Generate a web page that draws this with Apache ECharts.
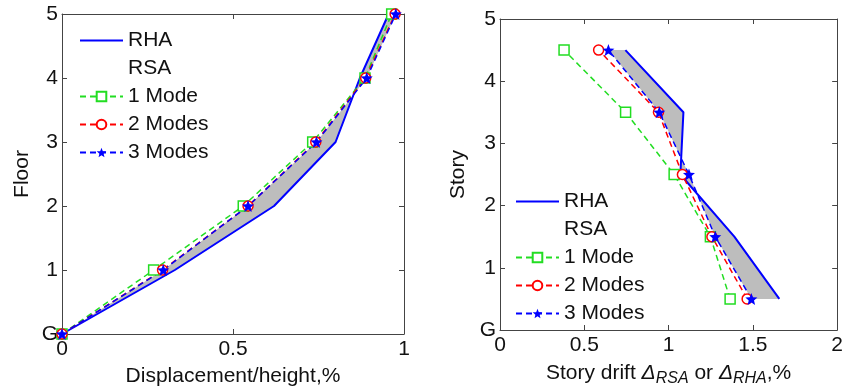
<!DOCTYPE html>
<html><head><meta charset="utf-8">
<script src="https://cdn.jsdelivr.net/npm/echarts@6/dist/echarts.min.js"></script>
<style>html,body{margin:0;padding:0;background:#fff}#c{width:846px;height:392px}</style>
</head><body><div id="c"></div>
<script>
// ---- data ----
const floors = [0, 1, 2, 3, 4, 5];
const dispRHA    = [0, 0.33, 0.62, 0.80, 0.871, 0.955];
const disp1Mode  = [0, 0.268, 0.530, 0.733, 0.886, 0.964];
const disp2Modes = [0, 0.294, 0.544, 0.742, 0.888, 0.974];
const disp3Modes = [0, 0.296, 0.544, 0.744, 0.891, 0.976];

const stories = [0.5, 1.5, 2.5, 3.5, 4.5];
const driftRHA    = [1.657, 1.39, 1.07, 1.088, 0.744];
const drift1Mode  = [1.365, 1.248, 1.033, 0.745, 0.380];
const drift2Modes = [1.466, 1.257, 1.082, 0.940, 0.585];
const drift3Modes = [1.491, 1.277, 1.121, 0.945, 0.643];

const floorTickLabels = ['G', '1', '2', '3', '4', '5'];
const legendNames = ['RHA', 'RSA', '1 Mode', '2 Modes', '3 Modes'];

// ---- helpers ----
const FONT = 'Liberation Sans, Arial, sans-serif';
const zip = (xs, ys) => xs.map((x, i) => [x, ys[i]]);
const AX = '#444';
const GREEN = '#22dd22', RED = '#ff0000', BLUE = '#0000ff';
const STAR = 'path://M0,-10L2.6,-3.5L9.5,-3.1L4.2,1.3L5.9,8.1L0,4.3L-5.9,8.1L-4.2,1.3L-9.5,-3.1L-2.6,-3.5Z';
const TICK_FS = 21, NAME_FS = 21;

function xAx(grid, max, interval, pos, name, nameGap) {
  return {
    gridIndex: grid, type: 'value', min: 0, max: max, interval: interval, position: pos,
    axisLine: {show: true, onZero: false, lineStyle: {color: AX, width: 1}},
    axisTick: {show: true, inside: true, length: 5, lineStyle: {color: AX}},
    axisLabel: {show: pos === 'bottom', fontSize: TICK_FS, color: '#111', fontFamily: FONT, margin: 5},
    splitLine: {show: false},
    name: pos === 'bottom' ? name : '', nameLocation: 'middle', nameGap: nameGap,
    nameTextStyle: {fontSize: NAME_FS, color: '#111', fontFamily: FONT,
      rich: {
        n: {fontSize: NAME_FS, color: '#111', fontFamily: FONT},
        i: {fontSize: NAME_FS, color: '#111', fontFamily: FONT, fontStyle: 'italic'},
        s: {fontSize: 16, color: '#111', fontFamily: FONT, fontStyle: 'italic', padding: [12, 0, 0, 0]}
      }}
  };
}
function yAx(grid, pos, name, nameGap) {
  return {
    gridIndex: grid, type: 'value', min: 0, max: 5, interval: 1, position: pos,
    axisLine: {show: true, onZero: false, lineStyle: {color: AX, width: 1}},
    axisTick: {show: true, inside: true, length: 5, lineStyle: {color: AX}},
    axisLabel: {show: pos === 'left', fontSize: TICK_FS, color: '#111', fontFamily: FONT, margin: 4,
      formatter: v => floorTickLabels[Math.round(v)]},
    splitLine: {show: false},
    name: pos === 'left' ? name : '', nameLocation: 'middle', nameGap: nameGap,
    nameTextStyle: {fontSize: NAME_FS, color: '#111', fontFamily: FONT}
  };
}

function fillSeries(xi, yi, a, b) {
  return {
    type: 'custom', xAxisIndex: xi, yAxisIndex: yi, silent: true, z: 1,
    data: [[0, 0]],
    renderItem: (params, api) => {
      const pts = a.concat(b.slice().reverse()).map(p => api.coord(p));
      return {type: 'polygon', shape: {points: pts}, style: {fill: '#bdbdbd', stroke: 'none'}};
    }
  };
}
function rha(xi, yi, data) {
  return {name: 'RHA', type: 'line', xAxisIndex: xi, yAxisIndex: yi, data: data, symbol: 'none',
    clip: false, z: 3, lineStyle: {color: BLUE, width: 2}, itemStyle: {color: BLUE}};
}
function rsa(xi, yi, name, data, color, symbol, size, filled) {
  return {name: name, type: 'line', xAxisIndex: xi, yAxisIndex: yi, data: data, clip: false, z: 4,
    symbol: symbol, symbolSize: size, showSymbol: true,
    lineStyle: {color: color, width: 1.5, type: [6, 4]},
    itemStyle: filled ? {color: color} : {color: '#fff', borderColor: color, borderWidth: 1.5}};
}
function rsaHeader(xi, yi) {
  return {name: 'RSA', type: 'line', xAxisIndex: xi, yAxisIndex: yi, data: [], symbol: 'none',
    lineStyle: {opacity: 0, color: '#fff'}, itemStyle: {opacity: 0, color: '#fff'}};
}
function legend(left, top) {
  return {
    data: legendNames.map(n => n === 'RHA'
      ? {name: n, itemStyle: {opacity: 0, color: 'transparent', borderWidth: 0}}
      : n === 'RSA' ? {name: n, itemStyle: {opacity: 0}, lineStyle: {opacity: 0}} : {name: n}),
    orient: 'vertical', left: left, top: top, selectedMode: false,
    itemWidth: 43, itemHeight: 12, itemGap: 7, padding: 0,
    textStyle: {fontSize: 21, color: '#111', fontFamily: FONT, lineHeight: 21, padding: [0, 0, 0, 0]}
  };
}

const L = {
  rha: zip(dispRHA, floors), m1: zip(disp1Mode, floors),
  m2: zip(disp2Modes, floors), m3: zip(disp3Modes, floors)
};
const R = {
  rha: zip(driftRHA, stories), m1: zip(drift1Mode, stories),
  m2: zip(drift2Modes, stories), m3: zip(drift3Modes, stories)
};

const option = {
  animation: false,
  backgroundColor: '#fff',
  textStyle: {fontFamily: FONT},
  grid: [
    {left: 62, top: 14, width: 342, height: 323, show: false},
    {left: 500, top: 19, width: 342, height: 311, show: false}
  ],
  xAxis: [
    xAx(0, 1, 0.5, 'bottom', 'Displacement/height,%', 32),
    xAx(0, 1, 0.5, 'top', '', 0),
    xAx(1, 2, 0.5, 'bottom', '{n|Story drift }{i|Δ}{s|RSA}{n| or }{i|Δ}{s|RHA}{n|,%}', 29),
    xAx(1, 2, 0.5, 'top', '', 0)
  ],
  yAxis: [
    yAx(0, 'left', 'Floor', 29),
    yAx(0, 'right', '', 0),
    yAx(1, 'left', 'Story', 31),
    yAx(1, 'right', '', 0)
  ],
  legend: [legend(79, 30), legend(515, 191)],
  series: [
    fillSeries(0, 0, L.rha, L.m3),
    rha(0, 0, L.rha),
    rsaHeader(0, 0),
    rsa(0, 0, '1 Mode', L.m1, GREEN, 'rect', 10, false),
    rsa(0, 0, '2 Modes', L.m2, RED, 'circle', 10, false),
    rsa(0, 0, '3 Modes', L.m3, BLUE, STAR, 12, true),

    fillSeries(2, 2, R.rha, R.m3),
    rha(2, 2, R.rha),
    rsa(2, 2, '1 Mode', R.m1, GREEN, 'rect', 10, false),
    rsa(2, 2, '2 Modes', R.m2, RED, 'circle', 10, false),
    rsa(2, 2, '3 Modes', R.m3, BLUE, STAR, 12, true)
  ]
};
const chart = echarts.init(document.getElementById('c'), null, {renderer: 'canvas'});
chart.setOption(option);
</script>
</body></html>
